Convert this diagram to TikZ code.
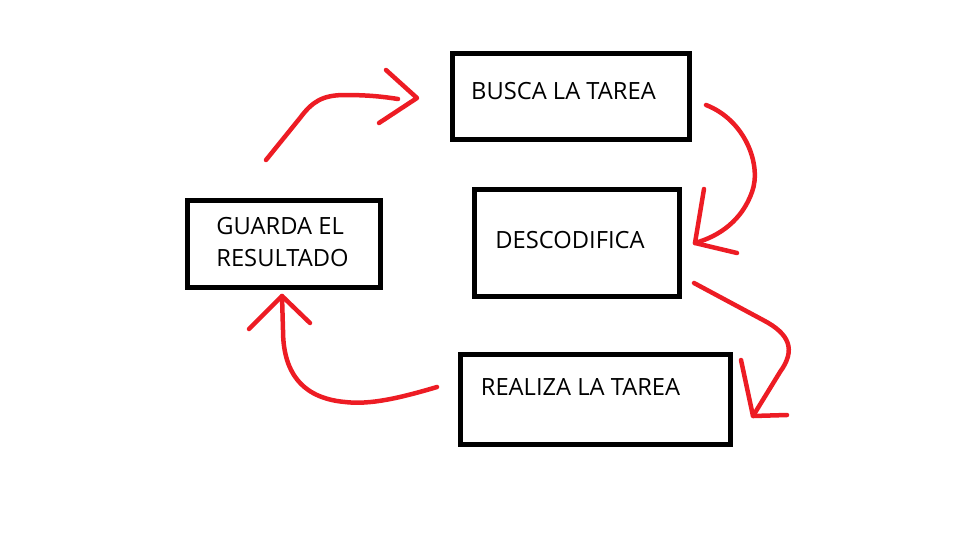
\documentclass[tikz,border=0pt]{standalone}
\usepackage{fontspec}
\setmainfont{Open Sans}
\usepackage{tikz}
\usetikzlibrary{positioning}
\definecolor{paintred}{RGB}{237,28,36}

\begin{document}
\begin{tikzpicture}[
  x=0.02cm, y=-0.02cm,
  caja/.style={draw, line width=0.1cm, inner sep=0pt},
  texto/.style={inner sep=0pt, align=left, font=\fontsize{13.5}{18.2}\selectfont},
  trazo/.style={draw=paintred, line width=0.09cm, line cap=round, line join=round}
]
\useasboundingbox (0,0) rectangle (977,558);
% cajas
\node[caja, minimum width=4.74cm, minimum height=1.72cm] (busca) at (571,96.5) {};
\node[caja, minimum width=4.10cm, minimum height=2.14cm] (descodifica) at (577,243) {};
\node[caja, minimum width=5.40cm, minimum height=1.80cm] (realiza) at (595.5,399.5) {};
\node[caja, minimum width=3.86cm, minimum height=1.74cm] (guarda) at (284,244) {};
% textos
\node[texto] (buscaTxt) at (563.5,91.5) {BUSCA LA TAREA};
\node[texto] (descodificaTxt) at (570,240) {DESCODIFICA};
\node[texto] (realizaTxt) at (580.5,386.5) {REALIZA LA TAREA};
\node[texto] (guardaTxt) at (282.5,242.5) {GUARDA EL\\RESULTADO};
% extremos de las flechas
\coordinate (f1ini) at (266,160);
\coordinate (f1fin) at (398,99);
\coordinate (f1punta) at (417,98);
\coordinate (f2ini) at (706,105);
\coordinate (f2punta) at (695,243);
\coordinate (f3ini) at (694,283);
\coordinate (f3punta) at (753,416);
\coordinate (f4ini) at (437,387);
\coordinate (f4punta) at (282,296);
% guarda -> busca
\draw[trazo] (f1ini) -- (300,118) .. controls (312,102) and (322,95) .. (345,95)
  .. controls (370,95) and (385,97) .. (f1fin);
\draw[trazo] (386,70) -- (f1punta) -- (379,123);
% busca -> descodifica
\draw[trazo] (f2ini) .. controls (745,120) and (762,165) .. (752,192)
  .. controls (742,220) and (720,236) .. (f2punta);
\draw[trazo] (704,189) -- (f2punta) -- (737,253);
% descodifica -> realiza
\draw[trazo] (f3ini) -- (763,320) .. controls (790,334) and (796,350) .. (780,372) -- (f3punta);
\draw[trazo] (741,360) -- (f3punta) -- (787,415);
% realiza -> guarda
\draw[trazo] (f4ini) .. controls (400,398) and (370,405) .. (345,402)
  .. controls (300,398) and (283,370) .. (283,330) -- (f4punta);
\draw[trazo] (249,329) -- (f4punta) -- (310,323);
\end{tikzpicture}
\end{document}
